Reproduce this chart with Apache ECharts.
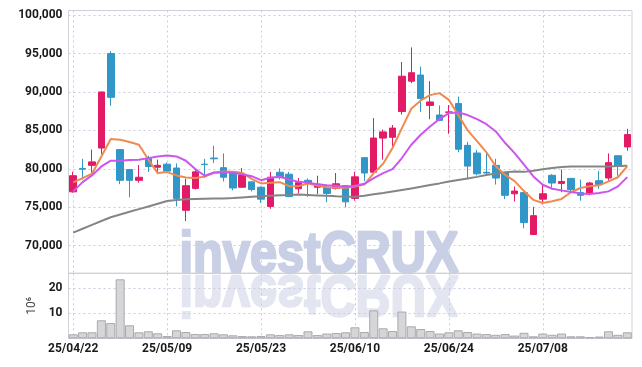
<!DOCTYPE html>
<html><head><meta charset="utf-8">
<script src="https://cdn.jsdelivr.net/npm/echarts@6/dist/echarts.min.js"></script>
<style>html,body{margin:0;padding:0;background:#fff}#c{width:642px;height:367px}</style>
</head><body><div id="c"></div>
<script>
const dates = ['25/04/22','25/04/23','25/04/24','25/04/25','25/04/28','25/04/29','25/04/30','25/05/02','25/05/07','25/05/08',
 '25/05/09','25/05/12','25/05/13','25/05/14','25/05/15','25/05/16','25/05/19','25/05/20','25/05/21','25/05/22',
 '25/05/23','25/05/26','25/05/27','25/05/28','25/05/29','25/05/30','25/06/02','25/06/04','25/06/05','25/06/09',
 '25/06/10','25/06/11','25/06/12','25/06/13','25/06/16','25/06/17','25/06/18','25/06/19','25/06/20','25/06/23',
 '25/06/24','25/06/25','25/06/26','25/06/27','25/06/30','25/07/01','25/07/02','25/07/03','25/07/04','25/07/07',
 '25/07/08','25/07/09','25/07/10','25/07/11','25/07/14','25/07/15','25/07/16','25/07/17','25/07/18','25/07/21'];
const openP = [77000,80050,80450,82700,95000,82500,79900,78500,81350,80200,80600,80100,74600,77450,80600,81400,80150,79600,77600,78300,
 77600,75100,79550,79300,77400,78500,77600,77600,77450,77800,76150,81450,79550,84000,84100,87450,91400,92200,88250,87000,
 87350,88500,83050,82050,79550,80450,79450,76750,76900,71450,76050,79150,78100,78750,76900,76850,78450,78800,81700,82850];
const closeP = [79100,79950,80900,90000,89300,78500,78500,78900,80300,80450,79700,76150,77800,79600,80550,81300,78900,77500,79200,77300,
 76050,78900,78850,76400,78200,78150,78000,76800,78050,75700,78950,79450,84000,84800,85300,92050,92500,89150,88700,86300,
 87400,82550,80350,79350,79450,78800,76550,77100,73000,73900,76750,78150,78350,77300,76550,78150,77950,80800,80300,84450];
const lowP = [76900,78600,79500,81900,88200,78000,76300,78200,79600,79300,79600,75100,73200,77300,78800,80750,78350,77200,77550,77050,
 75550,74800,78600,76300,76800,76350,76700,75650,77300,75000,75850,78400,79400,81200,82700,87050,91150,87400,86450,86200,
 84550,82150,78750,79150,79150,77950,76050,75750,72250,71450,75350,77550,76950,77100,75850,76550,77400,78450,79100,82350];
const highP = [79600,81300,82500,90000,95300,82500,79900,80500,81700,81200,80800,80700,78700,80000,81300,83000,82000,79600,80100,78300,
 77700,79600,80050,79600,78800,78750,79100,77700,79450,77900,79600,81450,86600,85100,85700,93900,95800,93300,91400,88250,
 88300,89400,83500,82450,82150,81300,79500,77700,76900,75050,77900,79300,79900,78800,78600,78300,79700,82000,81700,85200];
const ma5 = [78230,78790,79360,81600,83870,83780,83480,83130,81200,79440,79570,79140,78880,78790,78980,79480,79650,79610,79480,78700,
 78090,78180,78260,77740,77740,78090,77830,77610,77520,77520,77700,77950,79440,80660,82700,85300,87810,88900,89590,89850,
 88970,87000,85000,83600,82150,80320,79200,78400,77100,75950,75550,75770,76080,76950,77500,77720,77850,78360,78900,80350];
const ma10 = [77060,78270,79140,80310,81050,81050,81130,81180,81390,81610,81740,81610,81050,79960,79100,79520,79560,79480,79300,79040,
 78520,78830,78960,78610,78300,78180,78000,77870,77780,77650,77800,78050,78790,79440,79950,81400,83130,84430,85510,86470,
 87250,87340,86990,86470,85800,84860,83350,82040,80530,79010,77920,77400,77190,76970,76800,76710,76840,77060,77710,78920];
const maLong = [71700,72200,72700,73200,73700,74050,74400,74750,75100,75450,75800,75950,76050,76080,76100,76120,76140,76200,76280,76350,
 76420,76500,76560,76600,76650,76600,76540,76480,76420,76370,76360,76500,76700,76850,77050,77250,77450,77650,77900,78100,
 78350,78550,78750,78950,79200,79400,79550,79650,79600,79750,79950,80100,80220,80300,80300,80290,80290,80300,80350,80400];
const volume = [1.6,2.4,2.4,7.2,6.1,23.6,5.2,2.4,2.8,2.0,0.9,3.2,2.5,1.7,1.7,2.0,1.6,1.2,0.9,0.8,
 0.9,1.6,1.3,1.6,1.3,2.8,1.3,1.9,2.1,2.4,4.4,2.5,11.2,4.0,2.9,10.7,4.8,3.7,2.9,1.9,
 2.4,3.2,2.5,1.9,1.7,1.4,1.7,1.1,2.2,0.8,1.9,1.4,1.9,0.8,0.8,0.5,0.7,2.8,1.4,2.4];

const candles = dates.map((d, i) => [openP[i], closeP[i], lowP[i], highP[i]]);
const UP = '#e31a66', DOWN = '#3196c8';
const gridLine = {show: true, lineStyle: {color: '#c9cde0', type: [2, 3], width: 1}};
const labelFont = {color: '#1a1a1a', fontSize: 12, fontFamily: 'Roboto', fontWeight: 'bold'};
const wmStyle = {text: 'investCRUX', fontFamily: 'Liberation Sans', fontWeight: 'bold', fontSize: 58,
  textAlign: 'center', textVerticalAlign: 'bottom', lineWidth: 2.5};

const chart = echarts.init(document.getElementById('c'), null, {renderer: 'canvas'});
chart.setOption({
  animation: false,
  backgroundColor: '#fff',
  graphic: [
    {type: 'text', x: 319, y: 285, scaleX: 0.84, z: -1, silent: true,
     style: Object.assign({fill: '#c9cfe4', stroke: '#c9cfe4'}, wmStyle)},
    {type: 'text', x: 319, y: 263, scaleX: 0.84, scaleY: -1, z: -1, silent: true,
     style: Object.assign({fill: '#e3e6f1', stroke: '#e3e6f1'}, wmStyle)}
  ],
  grid: [
    {left: 68.5, right: 10, top: 10.5, height: 262.8, show: true, borderColor: '#d2d2da', borderWidth: 1, backgroundColor: 'transparent'},
    {left: 68.5, right: 10, top: 273.3, height: 65, show: true, borderColor: '#d2d2da', borderWidth: 1, backgroundColor: 'transparent'}
  ],
  xAxis: [
    {type: 'category', data: dates, gridIndex: 0, boundaryGap: true,
     axisLine: {show: false}, axisTick: {show: false}, axisLabel: {show: false},
     splitLine: Object.assign({interval: 9, alignWithLabel: true}, gridLine)},
    {type: 'category', data: dates, gridIndex: 1, boundaryGap: true,
     axisLine: {show: true, lineStyle: {color: '#c8c8d0'}}, axisTick: {show: false},
     axisLabel: Object.assign({interval: 9, margin: 5}, labelFont),
     splitLine: Object.assign({interval: 9, alignWithLabel: true}, gridLine)}
  ],
  yAxis: [
    {type: 'value', gridIndex: 0, min: 66400, max: 100600, splitNumber: 7, scale: true,
     axisLine: {show: false}, axisTick: {show: false},
     axisLabel: Object.assign({margin: 6, showMinLabel: false, showMaxLabel: false,
       formatter: v => (v % 5000 === 0 ? v.toLocaleString('en-US') : '')}, labelFont),
     splitLine: gridLine},
    {type: 'value', gridIndex: 1, min: 0, max: 26, interval: 10,
     name: '10⁶', nameLocation: 'middle', nameRotate: 90, nameGap: 30,
     nameTextStyle: {color: '#444', fontSize: 12, fontFamily: 'Roboto'},
     axisLine: {show: false}, axisTick: {show: false},
     axisLabel: Object.assign({margin: 6, showMinLabel: false, showMaxLabel: false,
       formatter: v => (v === 10 || v === 20 ? String(v) : '')}, labelFont),
     splitLine: gridLine}
  ],
  series: [
    {type: 'candlestick', xAxisIndex: 0, yAxisIndex: 0, data: candles, barWidth: 7, z: 3,
     itemStyle: {color: UP, color0: DOWN, borderColor: UP, borderColor0: DOWN, borderWidth: 1}},
    {type: 'line', xAxisIndex: 0, yAxisIndex: 0, data: maLong, symbol: 'none', z: 4,
     lineStyle: {color: '#858585', width: 2}},
    {type: 'line', xAxisIndex: 0, yAxisIndex: 0, data: ma5, symbol: 'none', z: 5,
     lineStyle: {color: '#ef8a50', width: 2}},
    {type: 'line', xAxisIndex: 0, yAxisIndex: 0, data: ma10, symbol: 'none', z: 5,
     lineStyle: {color: '#cc55ee', width: 2}},
    {type: 'bar', xAxisIndex: 1, yAxisIndex: 1, data: volume, barCategoryGap: '4%', z: 3,
     itemStyle: {color: '#d6d6d8', borderColor: '#a9a9ad', borderWidth: 1}}
  ]
});
</script></body></html>
